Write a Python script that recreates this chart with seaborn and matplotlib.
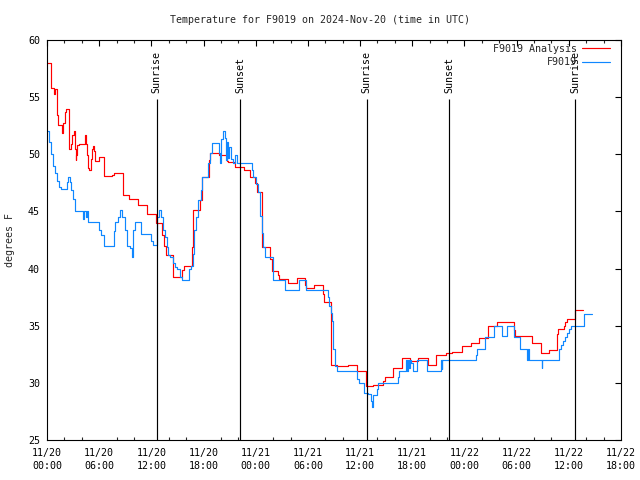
import matplotlib
matplotlib.use("Agg")
import matplotlib.pyplot as plt
import seaborn as sns
from matplotlib.ticker import MultipleLocator

# ---- data (hours since 2024-11-20 00:00 UTC) ----
analysis_hours = [0.00, 0.43, 0.49, 0.77, 0.92, 1.18, 1.30, 1.76, 1.87, 2.04, 2.18, 2.50, 2.56, 2.73,
                  2.91, 3.10, 3.22, 3.30, 3.37, 3.48, 3.64, 4.40, 4.48, 4.56, 4.68, 4.83, 5.02, 5.14,
                  5.29, 5.40, 5.52, 5.98, 6.55, 7.51, 7.70, 8.74, 9.46, 10.46, 11.53, 12.53, 13.26,
                  13.45, 13.68, 14.52, 15.52, 15.75, 16.67, 16.75, 16.82, 17.59, 17.79, 18.63, 18.74,
                  19.78, 20.66, 20.85, 21.62, 22.69, 23.34, 23.92, 24.11, 24.69, 24.76, 25.64, 25.87,
                  26.53, 26.71, 27.75, 28.71, 29.67, 29.78, 30.70, 31.70, 31.85, 32.62, 33.38, 34.64,
                  35.70, 36.68, 37.52, 38.67, 38.86, 39.75, 40.78, 41.74, 42.69, 43.81, 44.73, 45.88,
                  46.60, 47.75, 48.72, 49.71, 50.67, 50.74, 51.71, 53.70, 53.81, 55.80, 56.80, 57.76,
                  58.68, 58.80, 59.39, 59.56, 59.82, 60.71, 61.67]
analysis_temp = [58.0, 56.9, 55.8, 55.3, 55.7, 53.4, 52.6, 51.9, 52.7, 53.7, 54.0, 52.6, 50.5, 50.9,
                 51.7, 52.0, 50.5, 49.5, 49.9, 50.8, 50.9, 51.7, 50.9, 49.9, 48.8, 48.6, 49.6, 50.5,
                 50.7, 50.3, 49.4, 49.8, 48.1, 48.2, 48.4, 46.4, 46.1, 45.6, 44.8, 44.0, 42.9,
                 42.0, 41.2, 39.3, 39.9, 40.2, 41.9, 43.8, 45.1, 46.0, 48.0, 49.5, 50.1,
                 49.9, 49.4, 49.3, 48.9, 48.6, 48.0, 47.5, 46.7, 45.7, 41.9, 40.8, 39.8,
                 39.4, 39.1, 38.7, 39.2, 38.6, 38.3, 38.6, 37.8, 37.1, 31.6, 31.5, 31.6,
                 31.0, 29.7, 29.8, 30.2, 30.5, 31.3, 32.2, 31.9, 32.2, 31.6, 32.4, 32.6,
                 32.7, 33.2, 33.5, 33.9, 34.5, 35.0, 35.3, 34.6, 34.1, 33.5, 32.6, 32.9,
                 34.3, 34.7, 35.0, 35.3, 35.6, 36.4, 36.4]

station_hours = [0.00, 0.23, 0.46, 0.69, 0.92, 1.15, 1.38, 1.61, 2.30, 2.41, 2.64, 2.76, 2.99, 3.22,
                 4.14, 4.25, 4.48, 4.60, 4.71, 5.98, 6.21, 6.55, 7.70, 7.82, 8.16, 8.39, 8.62, 8.97,
                 9.20, 9.54, 9.77, 9.89, 10.12, 10.81, 11.96, 12.19, 12.65, 12.88, 13.11, 13.34,
                 13.57, 13.80, 13.91, 14.14, 14.49, 14.72, 14.95, 15.29, 15.47, 16.33, 16.56, 16.79,
                 16.90, 17.13, 17.36, 17.71, 17.86, 18.55, 18.74, 18.94, 19.78, 19.89, 20.01, 20.18,
                 20.47, 20.55, 20.73, 20.85, 20.96, 21.12, 21.42, 21.62, 21.81, 23.54, 23.72, 24.03,
                 24.30, 24.49, 24.69, 24.87, 25.07, 25.95, 27.37, 29.01, 29.75, 32.34, 32.46, 32.62,
                 32.74, 32.83, 32.94, 33.06, 33.17, 33.31, 35.68, 35.87, 36.45, 36.91, 37.22, 37.34,
                 37.52, 37.91, 38.09, 40.39, 40.51, 41.24, 41.34, 41.43, 41.53, 41.62, 41.74, 41.91,
                 42.03, 42.58, 43.73, 45.27, 45.38, 45.45, 49.29, 49.41, 50.36, 51.40, 52.28, 52.93,
                 53.73, 54.39, 55.23, 55.34, 55.42, 56.88, 56.95, 58.91, 59.10, 59.33, 59.56, 59.79,
                 60.02, 60.25, 61.78, 62.63]
station_temp = [52.0, 51.1, 50.0, 49.0, 48.4, 47.7, 47.1, 47.0, 47.6, 48.0, 47.6, 46.9, 46.1, 45.0,
                44.3, 45.0, 44.5, 45.0, 44.1, 43.4, 42.9, 42.0, 43.3, 44.1, 44.5, 45.1, 44.5, 43.4,
                42.0, 41.8, 41.0, 43.4, 44.1, 43.0, 42.4, 42.1, 44.5, 45.1, 44.5, 43.4,
                42.8, 41.9, 41.2, 41.0, 40.5, 40.1, 40.0, 39.3, 39.0, 40.0, 40.2, 41.3,
                43.4, 44.5, 46.0, 46.9, 48.0, 49.2, 50.1, 51.0, 50.1, 49.2, 51.3, 52.0,
                51.4, 49.5, 51.1, 49.7, 50.6, 49.6, 49.2, 49.9, 49.2, 48.6, 48.0, 47.4,
                46.7, 44.6, 43.1, 41.9, 41.0, 39.0, 38.1, 39.0, 38.1, 37.5, 36.7, 36.1,
                35.4, 34.5, 33.0, 32.0, 31.5, 31.0, 30.3, 30.0, 29.1, 29.0, 28.4, 27.9,
                28.9, 29.5, 30.0, 30.5, 31.0, 32.0, 31.4, 31.0, 32.0, 31.3, 32.0, 31.7,
                31.0, 32.0, 31.0, 32.0, 31.2, 32.0, 32.4, 33.0, 34.0, 35.0, 34.1, 35.0,
                34.0, 33.0, 32.0, 33.0, 32.0, 31.3, 32.0, 33.0, 33.3, 33.7, 34.0, 34.4,
                34.7, 35.0, 36.0, 36.0]

sun_hours = [12.62, 22.20, 36.75, 46.25, 60.75]
sun_labels = ["Sunrise", "Sunset", "Sunrise", "Sunset", "Sunrise"]

x_tick_hours = [0, 6, 12, 18, 24, 30, 36, 42, 48, 54, 60, 66]
x_tick_labels = ["11/20\n00:00", "11/20\n06:00", "11/20\n12:00", "11/20\n18:00",
                 "11/21\n00:00", "11/21\n06:00", "11/21\n12:00", "11/21\n18:00",
                 "11/22\n00:00", "11/22\n06:00", "11/22\n12:00", "11/22\n18:00"]
y_ticks = [25, 30, 35, 40, 45, 50, 55, 60]

title = "Temperature for F9019 on 2024-Nov-20 (time in UTC)"
ylabel = "degrees F"

# ---- style ----
sns.set_theme(style="white")
plt.rcParams["font.family"] = ["DejaVu Sans Mono"]
FS = 7.2

fig = plt.figure(figsize=(6.4, 4.8), dpi=100)
ax = fig.add_axes([47 / 640, 1 - 440 / 480, 574 / 640, 400 / 480])

red = "#ff0000"
blue = "#0f87ff"

sns.lineplot(x=analysis_hours, y=analysis_temp, ax=ax, color=red, lw=0.85,
             drawstyle="steps-post", estimator=None, sort=False, label="F9019 Analysis")
sns.lineplot(x=station_hours, y=station_temp, ax=ax, color=blue, lw=0.85,
             drawstyle="steps-post", estimator=None, sort=False, label="F9019")

ax.vlines(sun_hours, 25, 54.8, color="black", lw=0.85)
for h, lab in zip(sun_hours, sun_labels):
    ax.text(h, 55.4, lab, rotation=90, ha="center", va="bottom", fontsize=FS, color="black")

ax.set_xlim(0, 66)
ax.set_ylim(25, 60)
ax.set_xticks(x_tick_hours)
ax.set_xticklabels(x_tick_labels, fontsize=FS, linespacing=1.35)
ax.xaxis.set_minor_locator(MultipleLocator(2))
ax.set_yticks(y_ticks)
ax.set_yticklabels([str(v) for v in y_ticks], fontsize=FS)
ax.tick_params(axis="both", which="major", direction="in", length=4, width=0.8,
               top=True, right=True, color="black", labelcolor="black")
ax.tick_params(axis="x", which="minor", direction="in", length=2, width=0.8,
               top=True, bottom=True)
ax.tick_params(axis="x", which="major", pad=6)
ax.tick_params(axis="y", which="major", pad=5)
for s in ax.spines.values():
    s.set_color("black")
    s.set_linewidth(0.8)
ax.set_xlabel("")
ax.set_ylabel("")

fig.text(0.5, 1 - 20 / 480, title, ha="center", va="center", fontsize=FS)
fig.text(10 / 640, 0.5, ylabel, rotation=90, ha="center", va="center", fontsize=FS)

leg = ax.legend(loc="upper right", bbox_to_anchor=(1 - 3 / 574, 1 + 4 / 400),
                frameon=False, markerfirst=False, fontsize=FS,
                handlelength=2.8, handletextpad=0.5, labelspacing=0.35,
                borderaxespad=0.3, borderpad=0.5)

fig.savefig("out.png", dpi=100)
